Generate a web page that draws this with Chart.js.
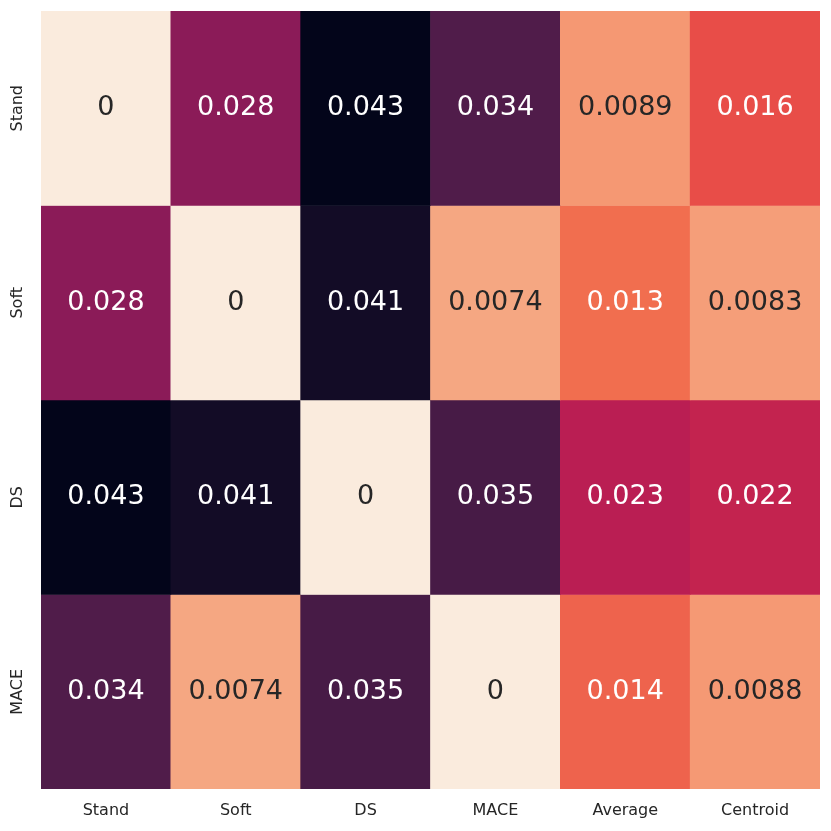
<!DOCTYPE html>
<html>
<head>
<meta charset="utf-8">
<script src="https://cdn.jsdelivr.net/npm/chart.js@4"></script>
<style>
  html, body { margin: 0; padding: 0; background: #fff; }
  canvas { display: block; }
</style>
</head>
<body>
<canvas id="heatmap" width="831" height="831"></canvas>
<script>
// labels
const columns = ["Stand", "Soft", "DS", "MACE", "Average", "Centroid"];
const rows = ["Stand", "Soft", "DS", "MACE"];

// values per row
const standRow = [0, 0.028, 0.043, 0.034, 0.0089, 0.016];
const softRow = [0.028, 0, 0.041, 0.0074, 0.013, 0.0083];
const dsRow = [0.043, 0.041, 0, 0.035, 0.023, 0.022];
const maceRow = [0.034, 0.0074, 0.035, 0, 0.014, 0.0088];

const matrix = [standRow, softRow, dsRow, maceRow];
const vmin = 0;
const vmax = 0.043;

// rocket colormap (reversed: low values light)
const rocketStops = [
    [0, [3, 5, 26]],
    [1 / 7, [53, 25, 62]],
    [2 / 7, [112, 31, 87]],
    [3 / 7, [173, 23, 89]],
    [4 / 7, [225, 51, 66]],
    [5 / 7, [243, 118, 81]],
    [6 / 7, [246, 180, 143]],
    [1, [250, 235, 221]]
];

function rocket(t) {
    t = Math.max(0, Math.min(1, t));
    for (let i = 1; i < rocketStops.length; i++) {
        const [p1, c1] = rocketStops[i];
        const [p0, c0] = rocketStops[i - 1];
        if (t <= p1) {
            const f = (t - p0) / (p1 - p0);
            return c0.map((c, k) => Math.round(c + (c1[k] - c) * f));
        }
    }
    return rocketStops[rocketStops.length - 1][1];
}

function cellColor(v) {
    return rocket(1 - (v - vmin) / (vmax - vmin));
}

function luminance(rgb) {
    const lin = rgb.map(c => {
        c = c / 255;
        return c <= 0.03928 ? c / 12.92 : Math.pow((c + 0.055) / 1.055, 2.4);
    });
    return 0.2126 * lin[0] + 0.7152 * lin[1] + 0.0722 * lin[2];
}

const datasets = matrix.map((values, r) => ({
    label: rows[r],
    data: values.map(() => [r, r + 1]),
    values: values,
    backgroundColor: values.map(v => {
        const c = cellColor(v);
        return `rgb(${c[0]},${c[1]},${c[2]})`;
    }),
    borderWidth: 0,
    barPercentage: 1,
    categoryPercentage: 1,
    grouped: false
}));

const cellLabels = {
    id: "cellLabels",
    afterDatasetsDraw(chart) {
        const ctx = chart.ctx;
        const yScale = chart.scales.y;
        ctx.save();
        ctx.font = "27px 'DejaVu Sans'";
        ctx.textAlign = "center";
        ctx.textBaseline = "middle";
        chart.data.datasets.forEach((ds, r) => {
            const meta = chart.getDatasetMeta(r);
            meta.data.forEach((bar, c) => {
                const v = ds.values[c];
                const lum = luminance(cellColor(v));
                ctx.fillStyle = lum > 0.408 ? "#262626" : "#ffffff";
                const y = yScale.getPixelForValue(r + 0.5);
                ctx.fillText(String(v), bar.x, y);
            });
        });

        // row labels, rotated
        ctx.font = "16px 'DejaVu Sans'";
        ctx.fillStyle = "#262626";
        rows.forEach((name, r) => {
            const y = yScale.getPixelForValue(r + 0.5);
            ctx.save();
            ctx.translate(18, y);
            ctx.rotate(-Math.PI / 2);
            ctx.fillText(name, 0, 0);
            ctx.restore();
        });
        ctx.restore();
    }
};

new Chart(document.getElementById("heatmap"), {
    type: "bar",
    data: {
        labels: columns,
        datasets: datasets
    },
    options: {
        responsive: false,
        animation: false,
        layout: {
            padding: { top: 11, right: 11, left: 41, bottom: 0 }
        },
        plugins: {
            legend: { display: false },
            tooltip: { enabled: false }
        },
        scales: {
            x: {
                grid: { display: false, drawTicks: false },
                border: { display: false },
                ticks: {
                    color: "#262626",
                    font: { family: "'DejaVu Sans'", size: 16 },
                    padding: 12,
                    maxRotation: 0
                },
                afterFit(scale) { scale.height = 42; }
            },
            y: {
                display: false,
                min: 0,
                max: 4,
                reverse: true
            }
        }
    },
    plugins: [cellLabels]
});
</script>
</body>
</html>
